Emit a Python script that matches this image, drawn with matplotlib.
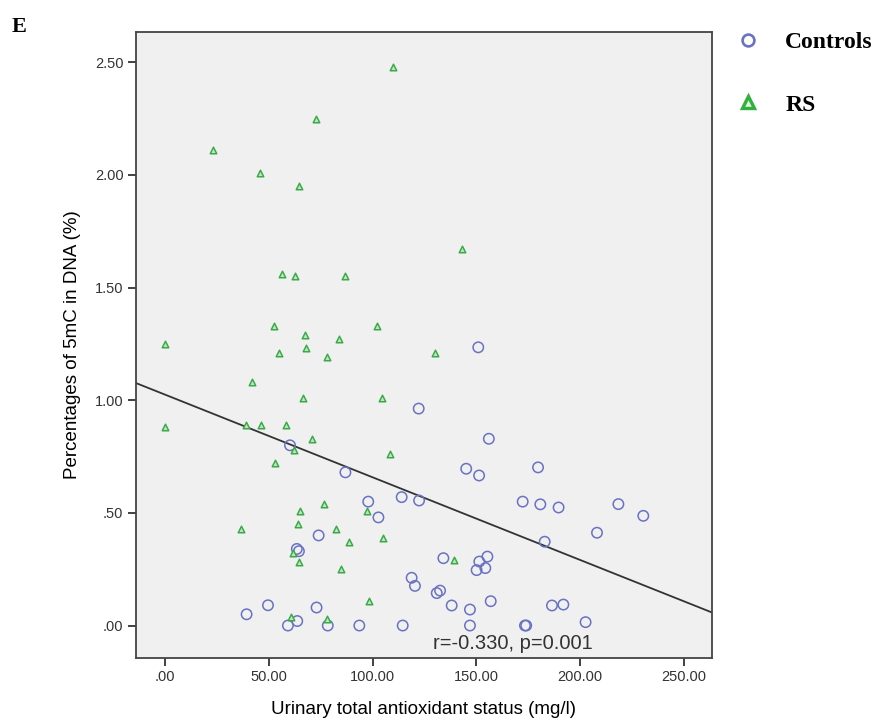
import numpy as np
import matplotlib
matplotlib.use("Agg")
from matplotlib import pyplot as plt
from matplotlib.lines import Line2D

# urinary TAS (mg/l) vs 5mC (%) for the two groups
controls_tas = [60.2, 86.9, 97.9, 114.0, 102.8, 74.0, 63.5, 64.5, 39.3, 49.6,
                73.0, 59.2, 63.7, 78.4, 93.6, 114.5, 150.9, 122.2, 156.0, 145.1,
                151.3, 179.7, 122.4, 172.3, 180.8, 189.6, 218.4, 230.4, 208.1, 182.9,
                134.1, 155.3, 151.4, 154.3, 150.1, 118.8, 120.4, 132.5, 130.9, 138.1,
                146.9, 156.9, 186.4, 191.9, 202.6, 146.9, 173.4, 174.0]
controls_5mc = [0.80, 0.68, 0.55, 0.57, 0.48, 0.40, 0.34, 0.33, 0.05, 0.09,
                0.08, 0.00, 0.02, 0.00, 0.00, 0.00, 1.235, 0.963, 0.829, 0.696,
                0.666, 0.702, 0.555, 0.55, 0.538, 0.524, 0.539, 0.487, 0.412, 0.372,
                0.299, 0.306, 0.284, 0.255, 0.246, 0.212, 0.176, 0.155, 0.144, 0.089,
                0.071, 0.108, 0.089, 0.093, 0.015, 0.00, 0.00, 0.00]

rs_tas = [110.0, 72.9, 23.0, 45.8, 64.4, 143.0, 56.2, 62.5, 86.7, 52.5,
          102.3, 67.4, 83.8, 0.0, 67.9, 55.0, 130.0, 77.9, 42.1, 66.3,
          104.4, 0.0, 39.2, 46.1, 58.3, 70.7, 62.1, 108.4, 53.0, 76.7,
          97.3, 65.0, 64.2, 36.8, 82.5, 88.5, 105.2, 61.8, 64.5, 84.8,
          139.2, 98.3, 60.5, 78.2]
rs_5mc = [2.48, 2.25, 2.11, 2.01, 1.95, 1.67, 1.56, 1.55, 1.55, 1.33,
          1.33, 1.29, 1.27, 1.25, 1.23, 1.21, 1.21, 1.19, 1.08, 1.01,
          1.01, 0.88, 0.89, 0.89, 0.89, 0.83, 0.78, 0.76, 0.72, 0.54,
          0.51, 0.51, 0.45, 0.43, 0.43, 0.37, 0.39, 0.32, 0.28, 0.25,
          0.29, 0.11, 0.04, 0.03]

# linear fit over all subjects
fit_intercept = 1.025
fit_slope = -0.00367

x_ticks = [0, 50, 100, 150, 200, 250]
y_ticks = [0, 0.5, 1.0, 1.5, 2.0, 2.5]

circle_col = "#6a72c2"
tri_edge = "#3caa48"
tri_face = "#bfe6c2"

fig = plt.figure(figsize=(8.91, 7.22), dpi=100)
ax = fig.add_axes([0.1526, 0.0893, 0.6465, 0.8668])
ax.set_facecolor("#f0f0f0")

ax.scatter(controls_tas, controls_5mc, s=56, facecolors="none",
           edgecolors=circle_col, linewidths=1.1, zorder=3)
ax.scatter(rs_tas, rs_5mc, s=22, marker="^", facecolors=tri_face,
           edgecolors=tri_edge, linewidths=1.1, zorder=3)

ax.set_xlim(-14, 263.5)
ax.set_ylim(-0.142, 2.636)

xs = np.array(ax.get_xlim())
ax.plot(xs, fit_intercept + fit_slope * xs, color="#333333", lw=1.3, zorder=2)

ax.text(206, -0.08, "r=-0.330, p=0.001", ha="right", va="center",
        fontsize=14.5, color="#333333", family="Liberation Sans")

ax.set_xticks(x_ticks)
ax.set_xticklabels(["%.2f" % v if v else ".00" for v in x_ticks])
ax.set_yticks(y_ticks)
ax.set_yticklabels(["%.2f" % v if v >= 1 else ("%.2f" % v)[1:] for v in y_ticks])
ax.tick_params(direction="out", length=6, width=1.3, color="#333333",
               labelsize=10.5, labelcolor="#333333", pad=3)
for lab in ax.get_xticklabels() + ax.get_yticklabels():
    lab.set_family("Liberation Sans")
for sp in ax.spines.values():
    sp.set_color("#444444")
    sp.set_linewidth(1.3)

ax.set_xlabel("Urinary total antioxidant status (mg/l)", fontsize=13.5,
              family="Liberation Sans", labelpad=12)
ax.set_ylabel("Percentages of 5mC in DNA (%)", fontsize=13.5,
              family="Liberation Sans", labelpad=10)

handles = [
    Line2D([], [], ls="none", marker="o", ms=8.5, mfc="none", mec=circle_col, mew=1.9),
    Line2D([], [], ls="none", marker="^", ms=9, mfc="#e0f3e0", mec="#2fb13c", mew=2.4),
]
leg = fig.legend(handles, ["Controls", "RS"], loc="upper left",
                 bbox_to_anchor=(0.8025, 0.986), frameon=False,
                 prop={"family": "Liberation Serif", "weight": "bold", "size": 17},
                 labelspacing=1.75, handletextpad=1.07, handlelength=1.0)

fig.text(0.013, 0.962, "E", fontsize=16, fontweight="bold",
         family="Liberation Serif", va="center")

fig.savefig("out.png", dpi=100)
